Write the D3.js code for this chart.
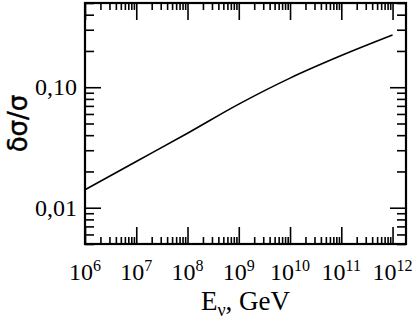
<!DOCTYPE html>
<html>
<head>
<meta charset="utf-8">
<script src="https://cdn.jsdelivr.net/npm/d3@7"></script>
<style>
  body { margin: 0; background: #fff; }
  svg { display: block; }
  .tick-label { font-family: "Liberation Serif", "DejaVu Serif", serif; font-size: 24px; fill: #000; }
</style>
</head>
<body>
<div id="chart"></div>
<script>
// Data
var energy = [1e6, 1e7, 1e8, 1e9, 1e10, 1e11, 1e12];
var ratio = [0.0141, 0.0242, 0.0415, 0.0724, 0.119, 0.183, 0.271];
var xExponents = [6, 7, 8, 9, 10, 11, 12];
var yMajor = [0.01, 0.1];
var yLabels = ["0,01", "0,10"];

var width = 415;
var height = 325;
var margin = { top: 3, right: 9, bottom: 81, left: 85 };
var plotW = width - margin.left - margin.right;
var plotH = height - margin.top - margin.bottom;

var svg = d3.select('#chart')
    .append('svg')
    .attr('width', width)
    .attr('height', height);

var x = d3.scaleLog().domain([1e6, 1.83e12]).range([0, plotW]);
var y = d3.scaleLog().domain([0.005, 0.5]).range([plotH, 0]);

var g = svg.append('g')
    .attr('transform', 'translate(' + margin.left + ',' + margin.top + ')');

// minor ticks
var xMinor = [];
xExponents.slice(0, -1).forEach(function (e) {
    for (var k = 2; k <= 9; k++) xMinor.push(k * Math.pow(10, e));
});
var yMinor = [];
[-3, -2, -1].forEach(function (e) {
    for (var k = 2; k <= 9; k++) {
        var v = k * Math.pow(10, e);
        if (v >= 0.005 && v <= 0.5) yMinor.push(v);
    }
});
var xMajor = xExponents.map(function (e) { return Math.pow(10, e); });

function styleAxis(sel) {
    sel.select('.domain').remove();
    sel.selectAll('line').attr('stroke', '#000').attr('stroke-width', 1.6);
}

// bottom
g.append('g').attr('transform', 'translate(0,' + plotH + ')')
    .call(d3.axisBottom(x).tickValues(xMinor).tickSize(-7).tickFormat('')).call(styleAxis);
g.append('g').attr('transform', 'translate(0,' + plotH + ')')
    .call(d3.axisBottom(x).tickValues(xMajor).tickSize(-17).tickFormat('')).call(styleAxis);
// top
g.append('g')
    .call(d3.axisTop(x).tickValues(xMinor).tickSize(-7).tickFormat('')).call(styleAxis);
g.append('g')
    .call(d3.axisTop(x).tickValues(xMajor).tickSize(-17).tickFormat('')).call(styleAxis);
// left
g.append('g')
    .call(d3.axisLeft(y).tickValues(yMinor).tickSize(-9).tickFormat('')).call(styleAxis);
g.append('g')
    .call(d3.axisLeft(y).tickValues(yMajor).tickSize(-16).tickFormat('')).call(styleAxis);
// right
g.append('g').attr('transform', 'translate(' + plotW + ',0)')
    .call(d3.axisRight(y).tickValues(yMinor).tickSize(-9).tickFormat('')).call(styleAxis);
g.append('g').attr('transform', 'translate(' + plotW + ',0)')
    .call(d3.axisRight(y).tickValues(yMajor).tickSize(-16).tickFormat('')).call(styleAxis);

// frame
g.append('rect')
    .attr('width', plotW)
    .attr('height', plotH)
    .attr('fill', 'none')
    .attr('stroke', '#000')
    .attr('stroke-width', 2.2);

// curve
var line = d3.line()
    .x(function (d, i) { return x(energy[i]); })
    .y(function (d) { return y(d); })
    .curve(d3.curveMonotoneX);

g.append('path')
    .datum(ratio)
    .attr('d', line)
    .attr('fill', 'none')
    .attr('stroke', '#000')
    .attr('stroke-width', 1.6);

// x tick labels
xExponents.forEach(function (e) {
    var t = g.append('text')
        .attr('class', 'tick-label')
        .attr('x', x(Math.pow(10, e)))
        .attr('y', plotH + 36)
        .attr('text-anchor', 'middle');
    t.append('tspan').text('10');
    t.append('tspan').attr('dy', -9).style('font-size', '16px').text(e);
});

// y tick labels
yMajor.forEach(function (v, i) {
    g.append('text')
        .attr('class', 'tick-label')
        .attr('x', -8)
        .attr('y', y(v) + 8)
        .attr('text-anchor', 'end')
        .text(yLabels[i]);
});

// axis titles
var xt = svg.append('text')
    .attr('x', margin.left + plotW / 2)
    .attr('y', 310)
    .attr('text-anchor', 'middle')
    .style('font-family', '"Liberation Serif", serif')
    .style('font-size', '27px');
xt.append('tspan').text('E');
xt.append('tspan').attr('dy', 6).style('font-size', '18px').text('ν');
xt.append('tspan').attr('dy', -6).text(', GeV');

svg.append('text')
    .attr('transform', 'translate(27,' + (margin.top + plotH / 2) + ') rotate(-90)')
    .attr('text-anchor', 'middle')
    .style('font-family', '"DejaVu Sans", sans-serif')
    .style('font-size', '26px')
    .style('stroke', '#000')
    .style('stroke-width', 0.4)
    .text('δσ/σ');
</script>
</body>
</html>
